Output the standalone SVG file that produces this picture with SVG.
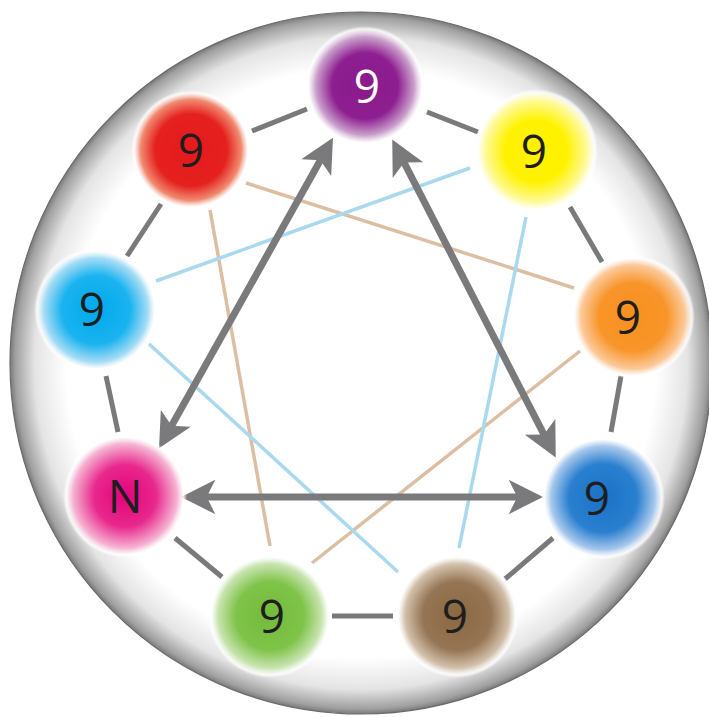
<svg xmlns="http://www.w3.org/2000/svg" width="709" height="717" viewBox="0 0 709 717">
<style>
.ring{stroke:#7a7a7c;stroke-width:5;stroke-linecap:butt;fill:none}
.arr{stroke:#7a7a7c;stroke-width:7;fill:none;marker-start:url(#ah);marker-end:url(#ah)}
.tan{stroke:#dcbfa3;stroke-width:3.5;fill:none}
.sky{stroke:#a8d9ef;stroke-width:3.5;fill:none}
.lbl{font-family:"Open Sans","Liberation Sans",sans-serif;font-size:46px;text-anchor:middle;fill:#1e1e1e}
</style>
<defs>
<radialGradient id="bg" gradientUnits="userSpaceOnUse" cx="361" cy="363" r="351">
<stop offset="0" stop-color="#ffffff"/>
<stop offset="0.84" stop-color="#ffffff"/>
<stop offset="0.93" stop-color="#e4e4e4"/>
<stop offset="0.985" stop-color="#a0a0a0"/>
<stop offset="1" stop-color="#7a7a7a"/>
</radialGradient>
<marker id="ah" markerUnits="userSpaceOnUse" markerWidth="40" markerHeight="40" refX="0" refY="0" viewBox="-12 -14 28 28" orient="auto-start-reverse" overflow="visible">
<path d="M14,0 L-10,-12 L-4,0 L-10,12 Z" fill="#7a7a7c"/>
</marker>
<radialGradient id="gPurple"><stop offset="0" stop-color="#8a1a8c"/><stop offset="0.55" stop-color="#8e1f90"/><stop offset="0.82" stop-color="#c9a0cb"/><stop offset="0.95" stop-color="#ffffff" stop-opacity="0.8"/><stop offset="1" stop-color="#ffffff" stop-opacity="0"/></radialGradient>
<radialGradient id="gRed"><stop offset="0" stop-color="#e5191d"/><stop offset="0.6" stop-color="#e5211f"/><stop offset="0.84" stop-color="#f08a70"/><stop offset="0.95" stop-color="#ffffff" stop-opacity="0.8"/><stop offset="1" stop-color="#ffffff" stop-opacity="0"/></radialGradient>
<radialGradient id="gYellow"><stop offset="0" stop-color="#fff000"/><stop offset="0.5" stop-color="#fff200"/><stop offset="0.82" stop-color="#fffa9a"/><stop offset="0.95" stop-color="#ffffff" stop-opacity="0.8"/><stop offset="1" stop-color="#ffffff" stop-opacity="0"/></radialGradient>
<radialGradient id="gOrange"><stop offset="0" stop-color="#f7901e"/><stop offset="0.55" stop-color="#f8952a"/><stop offset="0.84" stop-color="#fbc99a"/><stop offset="0.95" stop-color="#ffffff" stop-opacity="0.8"/><stop offset="1" stop-color="#ffffff" stop-opacity="0"/></radialGradient>
<radialGradient id="gBlue"><stop offset="0" stop-color="#1a72c6"/><stop offset="0.55" stop-color="#2a7fcf"/><stop offset="0.84" stop-color="#a8c8ec"/><stop offset="0.95" stop-color="#ffffff" stop-opacity="0.8"/><stop offset="1" stop-color="#ffffff" stop-opacity="0"/></radialGradient>
<radialGradient id="gBrown"><stop offset="0" stop-color="#8a6842"/><stop offset="0.55" stop-color="#957554"/><stop offset="0.84" stop-color="#d3c1ac"/><stop offset="0.95" stop-color="#ffffff" stop-opacity="0.8"/><stop offset="1" stop-color="#ffffff" stop-opacity="0"/></radialGradient>
<radialGradient id="gGreen"><stop offset="0" stop-color="#72bb3a"/><stop offset="0.55" stop-color="#80c34a"/><stop offset="0.84" stop-color="#c8e4b0"/><stop offset="0.95" stop-color="#ffffff" stop-opacity="0.8"/><stop offset="1" stop-color="#ffffff" stop-opacity="0"/></radialGradient>
<radialGradient id="gPink"><stop offset="0" stop-color="#e4037c"/><stop offset="0.5" stop-color="#e8288c"/><stop offset="0.84" stop-color="#f5b3d2"/><stop offset="0.95" stop-color="#ffffff" stop-opacity="0.8"/><stop offset="1" stop-color="#ffffff" stop-opacity="0"/></radialGradient>
<radialGradient id="gCyan"><stop offset="0" stop-color="#00a9ec"/><stop offset="0.55" stop-color="#1ab3ef"/><stop offset="0.84" stop-color="#a6dcf5"/><stop offset="0.95" stop-color="#ffffff" stop-opacity="0.8"/><stop offset="1" stop-color="#ffffff" stop-opacity="0"/></radialGradient>
</defs>
<rect width="709" height="717" fill="#ffffff"/>
<circle cx="361" cy="363" r="351" fill="url(#bg)" stroke="#6a6a6a" stroke-width="1.2"/>
<g id="connectors">
<line class="ring" x1="252" y1="131" x2="307" y2="109"/>
<line class="ring" x1="427" y1="112" x2="478" y2="132"/>
<line class="ring" x1="570" y1="207" x2="602" y2="262"/>
<line class="ring" x1="621" y1="376" x2="611" y2="432"/>
<line class="ring" x1="553" y1="538" x2="505" y2="579"/>
<line class="ring" x1="332" y1="616" x2="393" y2="616"/>
<line class="ring" x1="175" y1="538" x2="222" y2="577"/>
<line class="ring" x1="106" y1="376" x2="118" y2="432"/>
<line class="ring" x1="127" y1="256" x2="161" y2="204"/>
<line class="tan" x1="246" y1="183" x2="574" y2="288"/>
<line class="tan" x1="210" y1="210" x2="270" y2="546"/>
<line class="tan" x1="580" y1="351" x2="312" y2="563"/>
<line class="sky" x1="470" y1="168" x2="156" y2="281"/>
<line class="sky" x1="526" y1="217" x2="459" y2="548"/>
<line class="sky" x1="149" y1="344" x2="398" y2="572"/>
<line class="arr" x1="323.2" y1="155.2" x2="168.8" y2="430.8"/>
<line class="arr" x1="401.4" y1="157.4" x2="546.6" y2="439.6"/>
<line class="arr" x1="201" y1="497" x2="523" y2="497"/>
</g>
<g id="n-purple"><circle cx="365" cy="86" r="60" fill="url(#gPurple)"/><text class="lbl" x="367" y="103" style="fill:#ffffff">9</text></g>
<g id="n-yellow"><circle cx="536" cy="151" r="62" fill="url(#gYellow)"/><text class="lbl" x="534" y="168">9</text></g>
<g id="n-orange"><circle cx="633" cy="317" r="62" fill="url(#gOrange)"/><text class="lbl" x="628" y="334">9</text></g>
<g id="n-blue"><circle cx="603" cy="498" r="62" fill="url(#gBlue)"/><text class="lbl" x="597" y="515">9</text></g>
<g id="n-brown"><circle cx="457" cy="616" r="62" fill="url(#gBrown)"/><text class="lbl" x="455" y="633">9</text></g>
<g id="n-green"><circle cx="270" cy="616" r="62" fill="url(#gGreen)"/><text class="lbl" x="272" y="633">9</text></g>
<g id="n-pink"><circle cx="125" cy="496" r="62" fill="url(#gPink)"/><text class="lbl" x="125" y="513">N</text></g>
<g id="n-cyan"><circle cx="96" cy="310" r="62" fill="url(#gCyan)"/><text class="lbl" x="92" y="326">9</text></g>
<g id="n-red"><circle cx="191" cy="150" r="60" fill="url(#gRed)"/><text class="lbl" x="191" y="167">9</text></g>
</svg>
